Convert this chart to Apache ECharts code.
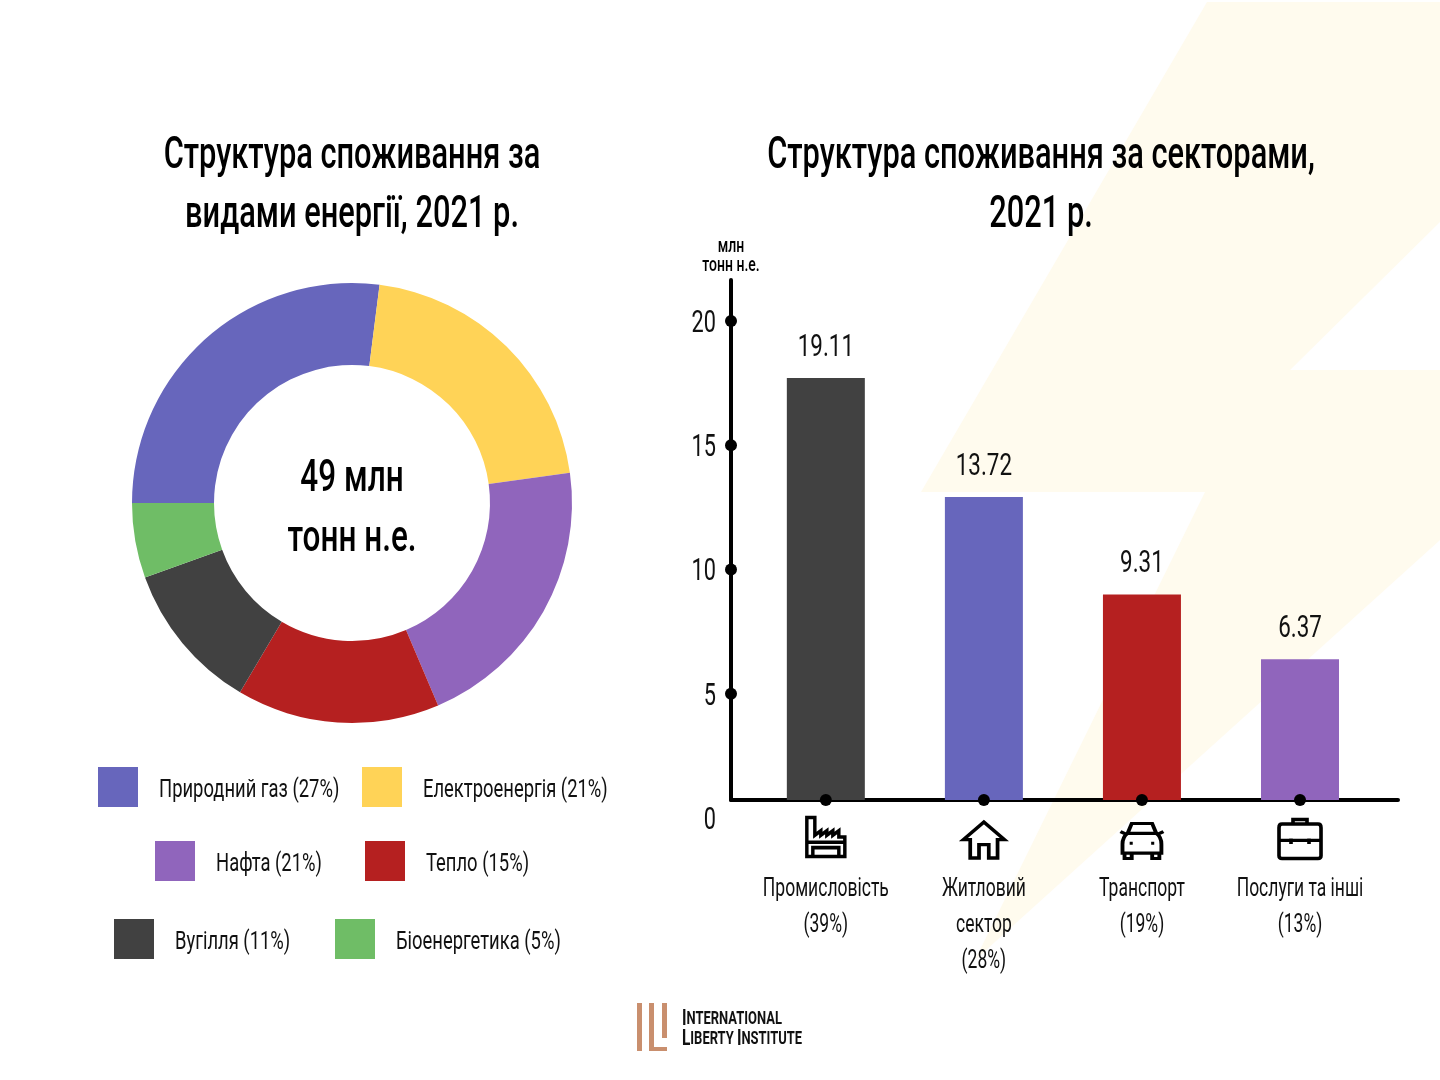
<!DOCTYPE html>
<html><head><meta charset="utf-8">
<style>html,body{margin:0;padding:0;background:#fff}#c{width:1440px;height:1080px}</style>
<script src="https://cdn.jsdelivr.net/npm/echarts@6/dist/echarts.min.js"></script>
</head><body><div id="c"></div>
<script>
const energyNames = ['Природний газ (27%)','Електроенергія (21%)','Нафта (21%)','Тепло (15%)','Вугілля (11%)','Біоенергетика (5%)'];
const energyValues = [27,20.8,20.8,14.9,11,5.5];
const energyColors = ['#6766BC','#FFD357','#9065BC','#B52020','#414141','#6FBD66'];
const sectorNames = ['Промисловість\n(39%)','Житловий\nсектор\n(28%)','Транспорт\n(19%)','Послуги та інші\n(13%)'];
const sectorValues = [19.11,13.72,9.31,6.37];
const sectorColors = ['#414141','#6766BC','#B52020','#9065BC'];
const yTickValues = [20,15,10,5];
const yTickLabels = [0,5,10,15,20];
const legendSpots = [[98,767],[362,767],[155,841],[365,841],[114,919],[335,919]];
const F = 'Roboto,sans-serif';
const icons = [
 'path://M4 2H12V22L18 17V22L24 17V22L30 17V22L36 17V24H42V46H4ZM4 30H42M10 36H36V46H10Z',
 'path://M2 24L23 3L44 24H37V46H28V30H18V46H9V24Z',
 'path://M9 16L13 5H33L37 16M9 16H37Q42 20 42 28V38H4V28Q4 20 9 16ZM6 38V44H13V38M33 38V44H40V38M2 14L8 17M44 14L38 17M11 27H14M32 27H35',
 'path://M16 8V3H30V8M5 8H41Q44 8 44 12V43Q44 46 41 46H5Q2 46 2 43V12Q2 8 5 8ZM2 26H44M14 24V30M32 24V30'
];
const iconSizes = [[38,39],[41,36],[43,35],[42,39]];
const iconOffsets = [37,40,41,39];
// No condensed typeface is installed: draw Roboto horizontally condensed, as the reference's type is.
const K = 0.7;
const P = CanvasRenderingContext2D.prototype, ft = P.fillText, mt = P.measureText;
P.fillText = function(t,x,y){ this.save(); this.translate(x,y); this.scale(K,1); ft.call(this,t,0,0); this.restore(); };
P.measureText = function(t){ const r = mt.call(this,t); Object.defineProperty(r,'width',{value:r.width*K}); return r; };

const chart = echarts.init(document.getElementById('c'));
chart.setOption({
 animation:false,
 backgroundColor:'#fff',
 title:[
  {text:'Структура споживання за\nвидами енергії, 2021 р.',left:347,top:122,textAlign:'center',textStyle:{fontFamily:F,fontSize:44,fontWeight:500,lineHeight:59,color:'#000'}},
  {text:'Структура споживання за секторами,\n2021 р.',left:1036,top:122,textAlign:'center',textStyle:{fontFamily:F,fontSize:44,fontWeight:500,lineHeight:59,color:'#000'}},
  {text:'49 млн\nтонн н.е.',left:347,top:445,textAlign:'center',textStyle:{fontFamily:F,fontSize:45,fontWeight:500,lineHeight:60,color:'#000'}},
  {text:'млн\nтонн н.е.',left:726,top:232,textAlign:'center',textStyle:{fontFamily:F,fontSize:20,fontWeight:500,lineHeight:19,color:'#000'}}
 ],
 legend:energyNames.map((n,i)=>({data:[n],left:legendSpots[i][0],top:legendSpots[i][1],orient:'horizontal',icon:'path://M0 0H40V40H0ZM0 46H0',itemWidth:40,itemHeight:46,selectedMode:false,padding:0,
   textStyle:{fontFamily:F,fontSize:26.3,color:'#111',padding:[0,0,0,16]}})),
 grid:[
  {left:731,top:280,width:667,height:520},
  {left:731,top:280,width:667,height:538}
 ],
 xAxis:[
  {gridIndex:0,type:'value',min:-0.6,max:3.62,splitLine:{show:false},
   axisLine:{show:true,onZero:false,lineStyle:{color:'#000',width:4}},axisTick:{show:false},
   axisLabel:{show:true,customValues:[0,1,2,3],margin:72,lineHeight:36,fontFamily:F,fontSize:25,color:'#111',verticalAlign:'top',
     formatter:v=>sectorNames[Math.round(v)]}},
  {gridIndex:1,type:'value',min:0,max:1,show:false}
 ],
 yAxis:[
  {gridIndex:0,type:'value',min:0,max:23.55,show:true,splitLine:{show:false},axisLabel:{show:false},axisTick:{show:false},
   axisLine:{show:true,onZero:false,lineStyle:{color:'#000',width:4}}},
  {gridIndex:1,type:'value',min:0,max:21.65,interval:5,splitLine:{show:false},axisTick:{show:false},axisLine:{show:false},
   axisLabel:{show:true,margin:15,verticalAlign:'top',lineHeight:6,fontFamily:F,fontSize:31,color:'#111',customValues:yTickLabels}}
 ],
 graphic:[
  {type:'polygon',z:-10,silent:true,shape:{points:[[1207,2],[1440,2],[1440,222],[1290,370],[1440,370],[1440,540],[975,960],[1205,492],[921,492]]},style:{fill:'#FFFBEE'}},
  {type:'rect',shape:{x:637,y:1003,width:5,height:48},style:{fill:'#C98F6E'}},
  {type:'rect',shape:{x:649,y:1003,width:5,height:48},style:{fill:'#C98F6E'}},
  {type:'rect',shape:{x:649,y:1047,width:18,height:4},style:{fill:'#C98F6E'}},
  {type:'rect',shape:{x:662,y:1003,width:5,height:35},style:{fill:'#C98F6E'}},
  {type:'text',x:682,y:1012,style:{text:'{a|I}{b|NTERNATIONAL}',rich:{a:{font:'bold 22px '+F,fill:'#111'},b:{font:'bold 18.5px '+F,fill:'#111'}}}},
  {type:'text',x:682,y:1032,style:{text:'{a|L}{b|IBERTY }{a|I}{b|NSTITUTE}',rich:{a:{font:'bold 22px '+F,fill:'#111'},b:{font:'bold 18.5px '+F,fill:'#111'}}}}
 ],
 series:[
  {type:'pie',center:[352,503],radius:[138,220],startAngle:180,clockwise:true,label:{show:false},labelLine:{show:false},silent:true,
   data:energyNames.map((n,i)=>({name:n,value:energyValues[i],itemStyle:{color:energyColors[i]}}))},
  {type:'bar',xAxisIndex:0,yAxisIndex:0,barWidth:78,silent:true,
   data:sectorValues.map((v,i)=>({value:[i,v],itemStyle:{color:sectorColors[i]}})),
   label:{show:true,position:'top',distance:19,fontFamily:F,fontSize:32,color:'#111',formatter:p=>String(p.value[1])}},
  {type:'scatter',xAxisIndex:0,yAxisIndex:0,symbolSize:12,silent:true,clip:false,z:5,itemStyle:{color:'#000',opacity:1},
   data:sectorValues.map((v,i)=>[i,0])},
  {type:'scatter',xAxisIndex:1,yAxisIndex:1,symbolSize:12,silent:true,clip:false,z:5,itemStyle:{color:'#000',opacity:1},
   data:yTickValues.map(v=>[0,v])},
  ...icons.map((p,i)=>({type:'scatter',xAxisIndex:0,yAxisIndex:0,symbol:p,symbolSize:iconSizes[i],symbolOffset:[0,iconOffsets[i]],silent:true,clip:false,z:6,
   itemStyle:{color:'rgba(0,0,0,0)',borderColor:'#000',borderWidth:3.5,opacity:1},data:[[i,0]]}))
 ]
});
</script></body></html>
